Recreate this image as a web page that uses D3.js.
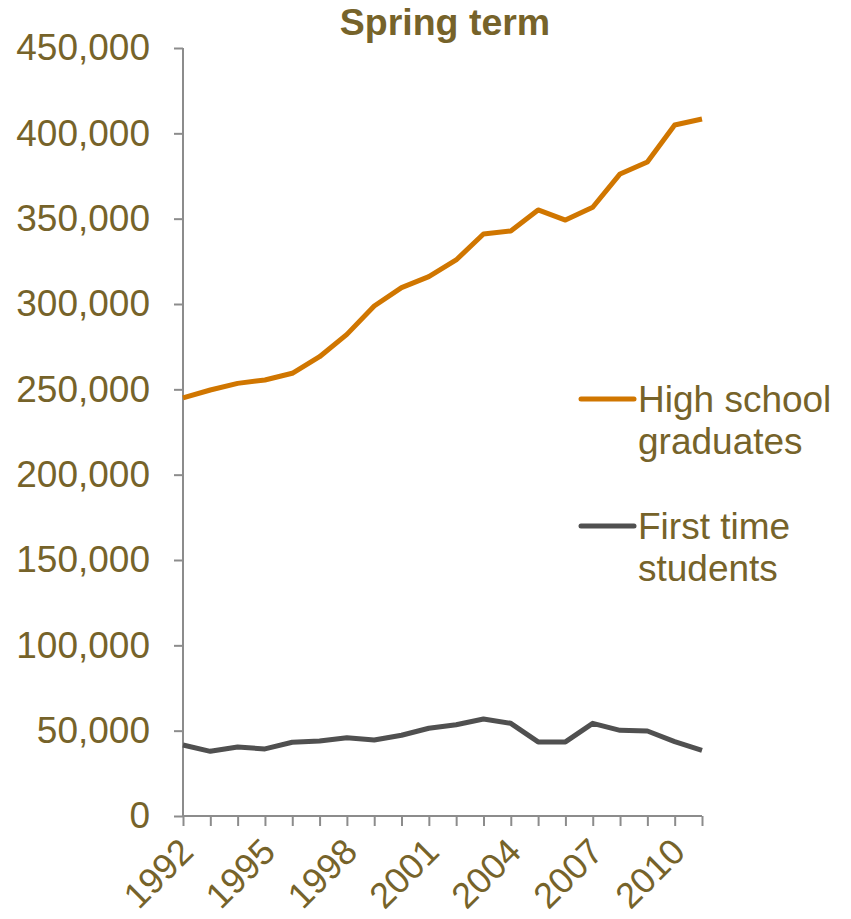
<!DOCTYPE html>
<html><head><meta charset="utf-8">
<script src="https://cdn.jsdelivr.net/npm/d3@7"></script>
<style>body{margin:0;background:#fff}svg{display:block}</style>
</head><body><svg id="c" width="851" height="919"></svg>
<script>
const years = [1992,1993,1994,1995,1996,1997,1998,1999,2000,2001,2002,2003,2004,2005,2006,2007,2008,2009,2010,2011];
const highSchool = [245000,249600,253500,255500,259400,269100,282200,298800,309600,316000,325800,341000,342800,355100,349200,356700,376200,383200,404900,408400];
const firstTime = [41600,37900,40400,39300,43200,43900,45900,44500,47300,51400,53500,56800,54300,43400,43400,54300,50200,49800,43600,38500];
const yTicks = [0,50000,100000,150000,200000,250000,300000,350000,400000,450000];
const xTickLabels = [1992,1995,1998,2001,2004,2007,2010];
const seriesNames = ["High school graduates","First time students"];

const txt = "#76632A", axisC = "#8C8C8C";
const font = "'Liberation Sans',Arial,sans-serif";
const svg = d3.select("#c");
const x = d3.scaleLinear().domain([1992,2011]).range([183,702]);
const y = d3.scaleLinear().domain([0,450000]).range([816,48]);

const fmt = d3.format(",");
const ya = svg.append("g").attr("transform","translate(183,0)")
  .call(d3.axisLeft(y).tickValues(yTicks).tickFormat(fmt).tickSize(9).tickPadding(24));
ya.selectAll("text").attr("fill",txt).style("font-family",font).style("font-size","37px");

const xa = svg.append("g").attr("transform","translate(0,816)")
  .call(d3.axisBottom(x).tickValues(years).tickFormat(d => xTickLabels.includes(d) ? d : "").tickSize(10).tickPadding(6));
xa.selectAll("text").attr("fill",txt).style("font-family",font).style("font-size","36px")
  .attr("text-anchor","end").attr("transform","translate(3,29) rotate(-45)").attr("dy","0.35em").attr("y",0).attr("x",0);

svg.selectAll(".domain, .tick line").attr("stroke",axisC).attr("stroke-width",2);
ya.select(".domain").attr("d","M0,48V816");
xa.select(".domain").attr("d","M183,0H702");

const line = d3.line().x((d,i)=>x(years[i])).y(d=>y(d));
svg.append("path").datum(highSchool).attr("d",line).attr("fill","none").attr("stroke","#D07600").attr("stroke-width",5).attr("stroke-linejoin","round");
svg.append("path").datum(firstTime).attr("d",line).attr("fill","none").attr("stroke","#505050").attr("stroke-width",5).attr("stroke-linejoin","round");

svg.append("text").attr("x",445).attr("y",35).attr("text-anchor","middle").attr("fill",txt)
  .style("font-family",font).style("font-size","37.5px").style("font-weight","bold").text("Spring term");

const legend = [
  {name: seriesNames[0], lines:["High school","graduates"], color:"#D07600", y:399},
  {name: seriesNames[1], lines:["First time","students"], color:"#505050", y:526}
];
legend.forEach(l => {
  svg.append("line").attr("x1",581).attr("x2",634).attr("y1",l.y).attr("y2",l.y).attr("stroke",l.color).attr("stroke-width",5).attr("stroke-linecap","round");
  const t = svg.append("text").attr("x",638).attr("y",l.y+13).attr("fill",txt)
    .style("font-family",font).style("font-size","37px");
  l.lines.forEach((s,i)=> t.append("tspan").attr("x",638).attr("dy", i===0?0:42).text(s));
});
</script></body></html>
